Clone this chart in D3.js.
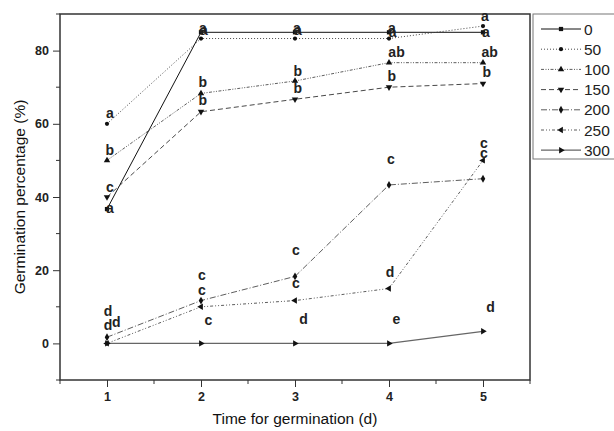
<!DOCTYPE html>
<html>
<head>
<meta charset="utf-8">
<script src="https://cdn.jsdelivr.net/npm/d3@7"></script>
<style>
  body { margin: 0; background: #fff; }
  text { font-family: Arial, "Liberation Sans", Helvetica, sans-serif; }
</style>
</head>
<body>
<div id="chart"></div>
<script>
// days on the x axis
const days = [1, 2, 3, 4, 5];
// series names (legend)
const seriesNames = ["0", "50", "100", "150", "200", "250", "300"];
// germination percentage per series, day 1..5
const s0 = [36.7, 85, 85, 85, 85];
const s50 = [60, 83.3, 83.3, 83.3, 86.7];
const s100 = [50, 68.3, 71.7, 76.7, 76.7];
const s150 = [40, 63.3, 66.7, 70, 71];
const s200 = [1.7, 11.7, 18.3, 43.3, 45];
const s250 = [0, 10, 11.7, 15, 50];
const s300 = [0, 0, 0, 0, 3.3];
const seriesValues = [s0, s50, s100, s150, s200, s250, s300];
// tick labels
const xTicks = [1, 2, 3, 4, 5];
const yTicks = [0, 20, 40, 60, 80];
// significance letters: [day, value, letter]
const letters = [
  [1.03, 63, "a"], [1.03, 52.8, "b"], [1.03, 42.7, "c"], [1.03, 37, "a"],
  [1.01, 8.9, "d"], [1.01, 5.0, "d"], [1.1, 5.8, "d"],
  [2.02, 86.2, "a"], [2.03, 85.6, "a"], [2.02, 71.4, "b"], [2.02, 66.4, "b"],
  [2.01, 18.7, "c"], [2.01, 14.6, "c"], [2.08, 6.4, "c"],
  [3.02, 86.2, "a"], [3.03, 85.6, "a"], [3.03, 74.5, "b"], [3.03, 69.7, "b"],
  [3.01, 25.5, "c"], [3.01, 16.5, "c"], [3.09, 6.7, "d"],
  [4.03, 86.2, "a"], [4.04, 85.2, "a"], [4.08, 79.6, "ab"], [4.03, 73.1, "b"],
  [4.02, 50.4, "c"], [4.01, 19.5, "d"], [4.08, 6.7, "e"],
  [5.02, 89.5, "a"], [5.03, 85.1, "a"], [5.07, 79.6, "ab"], [5.04, 74.3, "b"],
  [5.01, 54.7, "c"], [5.01, 52, "c"], [5.08, 10, "d"]
];

const W = 614, H = 431;
const margin = { top: 14, right: 84, bottom: 51, left: 60 };
const width = W - margin.left - margin.right;
const height = H - margin.top - margin.bottom;

const styles = [
  { dash: null, color: "#111", sw: 1, sym: d3.symbolSquare },
  { dash: "1,2", color: "#333", sw: 0.9, sym: d3.symbolCircle },
  { dash: "3,1.5,1,1.5,1,1.5", color: "#333", sw: 0.8, sym: d3.symbolTriangle, rot: 0 },
  { dash: "5,3", color: "#333", sw: 0.9, sym: d3.symbolTriangle, rot: 180 },
  { dash: "6,2,1,2", color: "#333", sw: 0.8, sym: d3.symbolDiamond },
  { dash: "3,2,1,2,1,2", color: "#333", sw: 0.8, sym: d3.symbolTriangle, rot: -90 },
  { dash: null, color: "#666", sw: 1.3, sym: d3.symbolTriangle, rot: 90 }
];

const svg = d3.select("#chart").append("svg")
  .attr("width", W).attr("height", H);
const g = svg.append("g")
  .attr("transform", "translate(" + margin.left + "," + margin.top + ")");

const x = d3.scaleLinear().domain([0.5, 5.5]).range([0, width]);
const y = d3.scaleLinear().domain([-10, 90]).range([height, 0]);

// frame
g.append("rect").attr("width", width).attr("height", height)
  .attr("fill", "none").attr("stroke", "#333").attr("stroke-width", 1.5);

// minor ticks
const xMinor = [0.5, 1.5, 2.5, 3.5, 4.5, 5.5];
const yMinor = [-10, 10, 30, 50, 70, 90];
g.selectAll(".xminor").data(xMinor).enter().append("line")
  .attr("x1", d => x(d)).attr("x2", d => x(d))
  .attr("y1", height).attr("y2", height + 4)
  .attr("stroke", "#333").attr("stroke-width", 1);
g.selectAll(".yminor").data(yMinor).enter().append("line")
  .attr("x1", -4).attr("x2", 0)
  .attr("y1", d => y(d)).attr("y2", d => y(d))
  .attr("stroke", "#333").attr("stroke-width", 1);

// axes
const xAxis = g.append("g").attr("transform", "translate(0," + height + ")")
  .call(d3.axisBottom(x).tickValues(xTicks).tickSize(7).tickPadding(5).tickFormat(d3.format("d")));
const yAxis = g.append("g")
  .call(d3.axisLeft(y).tickValues(yTicks).tickSize(7).tickPadding(4).tickFormat(d3.format("d")));
[xAxis, yAxis].forEach(a => {
  a.select(".domain").remove();
  a.selectAll("line").attr("stroke", "#333").attr("stroke-width", 1);
  a.selectAll("text").attr("font-size", 12.5).attr("font-weight", "bold")
    .attr("fill", "#222").style("font-family", "Arial, 'Liberation Sans', sans-serif");
});

// axis titles
svg.append("text")
  .attr("x", margin.left + width / 2).attr("y", 424)
  .attr("text-anchor", "middle").attr("font-size", 15.5).attr("fill", "#111")
  .text("Time for germination (d)");
svg.append("text")
  .attr("transform", "translate(25," + (margin.top + height / 2) + ") rotate(-90)")
  .attr("text-anchor", "middle").attr("font-size", 15.5).attr("fill", "#111")
  .text("Germination percentage (%)");

// lines
const line = d3.line().x((d, i) => x(days[i])).y(d => y(d));
seriesValues.forEach((vals, si) => {
  const st = styles[si];
  g.append("path").datum(vals)
    .attr("d", line)
    .attr("fill", "none")
    .attr("stroke", st.color)
    .attr("stroke-width", st.sw)
    .attr("stroke-dasharray", st.dash);
});

// markers
function marker(sel, st) {
  sel.attr("d", d3.symbol().type(st.sym).size(st.sym === d3.symbolCircle ? 14 : 18))
    .attr("fill", "#111");
}
seriesValues.forEach((vals, si) => {
  const st = styles[si];
  g.selectAll(".m" + si).data(vals).enter().append("path")
    .call(marker, st)
    .attr("transform", (d, i) => "translate(" + x(days[i]) + "," + y(d) + ") rotate(" + (st.rot || 0) + ")");
});

// letters
g.selectAll(".letter").data(letters).enter().append("text")
  .attr("x", d => x(d[0])).attr("y", d => y(d[1]))
  .attr("dy", "0.36em")
  .attr("text-anchor", "middle")
  .attr("font-size", 14).attr("font-weight", "bold").attr("fill", "#222")
  .text(d => d[2]);

// legend
const legend = svg.append("g").attr("transform", "translate(533,14)");
legend.append("rect").attr("width", 90).attr("height", 145)
  .attr("fill", "#fff").attr("stroke", "#777").attr("stroke-width", 1);
const items = legend.selectAll(".item").data(seriesNames).enter().append("g")
  .attr("transform", (d, i) => "translate(0," + (15 + i * 20.2) + ")");
items.append("line")
  .attr("x1", 8).attr("x2", 48)
  .attr("stroke", (d, i) => styles[i].color)
  .attr("stroke-width", (d, i) => styles[i].sw)
  .attr("stroke-dasharray", (d, i) => styles[i].dash);
items.append("path")
  .each(function (d, i) { d3.select(this).call(marker, styles[i]); })
  .attr("transform", (d, i) => "translate(28,0) rotate(" + (styles[i].rot || 0) + ")");
items.append("text")
  .attr("x", 51).attr("dy", "0.36em")
  .attr("font-size", 15.5).attr("fill", "#222")
  .text(d => d);
</script>
</body>
</html>
